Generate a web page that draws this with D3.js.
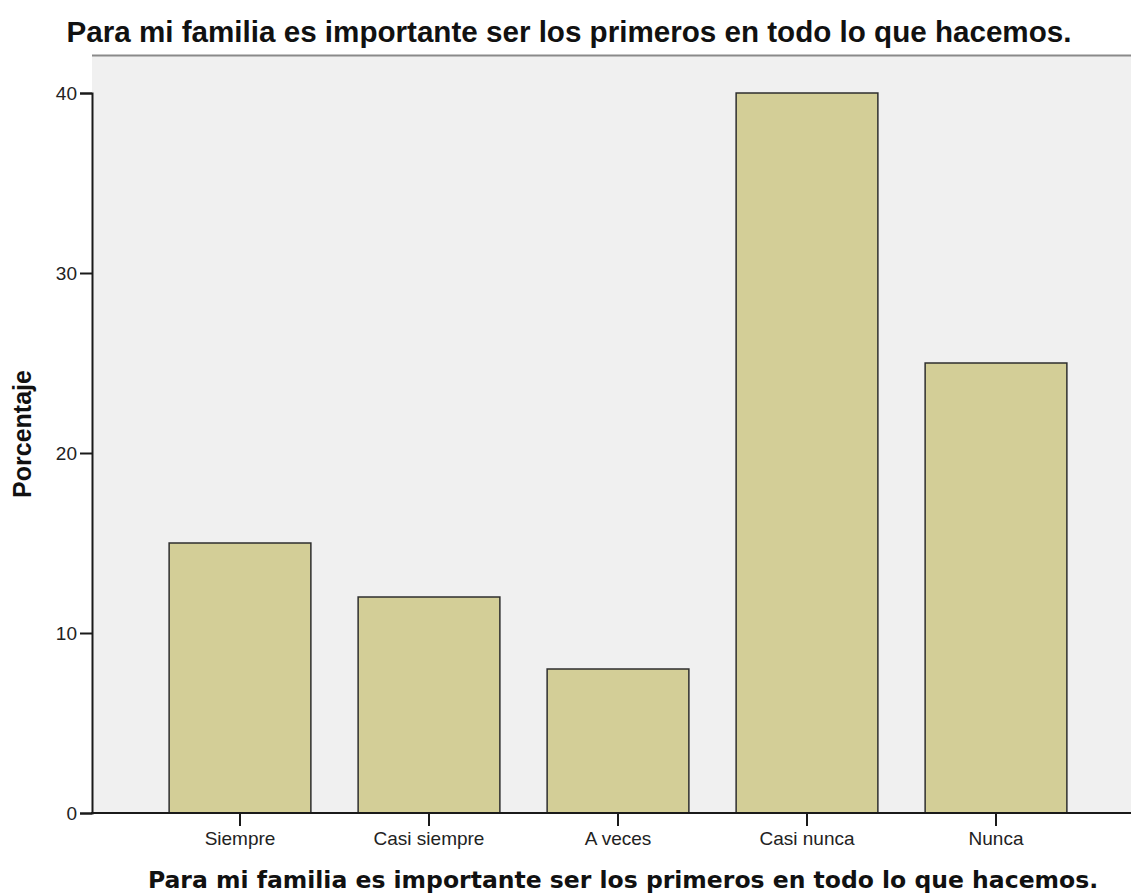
<!DOCTYPE html>
<html>
<head>
<meta charset="utf-8">
<script src="https://cdn.jsdelivr.net/npm/d3@7"></script>
<style>
  html, body { margin: 0; padding: 0; background: #ffffff; }
  svg { display: block; }
</style>
</head>
<body>
<svg id="chart" width="1131" height="896"></svg>
<script>
const categories = ["Siempre", "Casi siempre", "A veces", "Casi nunca", "Nunca"];
const values = [15, 12, 8, 40, 25];
const yTicks = [0, 10, 20, 30, 40];
const titleText = "Para mi familia es importante ser los primeros en todo lo que hacemos.";
const xTitleText = "Para mi familia es importante ser los primeros en todo lo que hacemos.";
const yTitleText = "Porcentaje";

const svg = d3.select("#chart");
const plot = { left: 92, top: 55, right: 1131, bottom: 813 };

// background panel
svg.append("rect")
  .attr("x", plot.left).attr("y", plot.top)
  .attr("width", plot.right - plot.left + 10)
  .attr("height", plot.bottom - plot.top)
  .attr("fill", "#f0f0f0");

// top border
svg.append("line")
  .attr("x1", plot.left).attr("x2", plot.right)
  .attr("y1", plot.top + 0.5).attr("y2", plot.top + 0.5)
  .attr("stroke", "#8a8a8a").attr("stroke-width", 2);

const y = d3.scaleLinear().domain([0, 40]).range([plot.bottom, 93]);
const x = d3.scaleBand().domain(categories).range([145.5, 1090.5]).paddingInner(0.25).paddingOuter(0.125);

// bars
svg.append("g").selectAll("rect")
  .data(categories.map((c, i) => ({ c, v: values[i] })))
  .join("rect")
  .attr("x", d => x(d.c))
  .attr("y", d => y(d.v))
  .attr("width", x.bandwidth())
  .attr("height", d => y(0) - y(d.v))
  .attr("fill", "#d3ce97")
  .attr("stroke", "#2e2e2e")
  .attr("stroke-width", 1.5);

// y axis
const yAxis = svg.append("g")
  .attr("transform", `translate(${plot.left},0)`)
  .call(d3.axisLeft(y).tickValues(yTicks).tickSize(12).tickPadding(3).tickFormat(d3.format("d")));
yAxis.select(".domain").attr("stroke", "#1a1a1a").attr("stroke-width", 2);
yAxis.selectAll(".tick line").attr("stroke", "#1a1a1a").attr("stroke-width", 2);
yAxis.selectAll(".tick text")
  .attr("fill", "#222")
  .style("font-family", "'Liberation Sans', Arial, sans-serif")
  .style("font-size", "19px");

// x axis
const xAxis = svg.append("g")
  .attr("transform", `translate(0,${plot.bottom})`)
  .call(d3.axisBottom(x).tickSize(13).tickPadding(6).tickSizeOuter(0));
xAxis.select(".domain").remove();
svg.append("line")
  .attr("x1", plot.left - 1).attr("x2", plot.right)
  .attr("y1", plot.bottom).attr("y2", plot.bottom)
  .attr("stroke", "#1a1a1a").attr("stroke-width", 2);
xAxis.selectAll(".tick line").attr("stroke", "#1a1a1a").attr("stroke-width", 2);
xAxis.selectAll(".tick text")
  .attr("fill", "#222")
  .style("font-family", "'Liberation Sans', Arial, sans-serif")
  .style("font-size", "19px");

// title
svg.append("text")
  .attr("x", 569).attr("y", 42)
  .attr("text-anchor", "middle")
  .style("font-family", "'Liberation Sans', Arial, sans-serif")
  .style("font-weight", "bold")
  .style("font-size", "29.6px")
  .attr("fill", "#111")
  .text(titleText);

// x axis title
svg.append("text")
  .attr("x", 623).attr("y", 888)
  .attr("text-anchor", "middle")
  .style("font-family", "'DejaVu Sans', Verdana, sans-serif")
  .style("font-weight", "bold")
  .style("font-size", "23.5px")
  .attr("fill", "#111")
  .text(xTitleText);

// y axis title
svg.append("text")
  .attr("transform", `translate(31,${(plot.top + plot.bottom) / 2}) rotate(-90)`)
  .attr("text-anchor", "middle")
  .style("font-family", "'Liberation Sans', Arial, sans-serif")
  .style("font-weight", "bold")
  .style("font-size", "25px")
  .attr("fill", "#111")
  .text(yTitleText);
</script>
</body>
</html>
